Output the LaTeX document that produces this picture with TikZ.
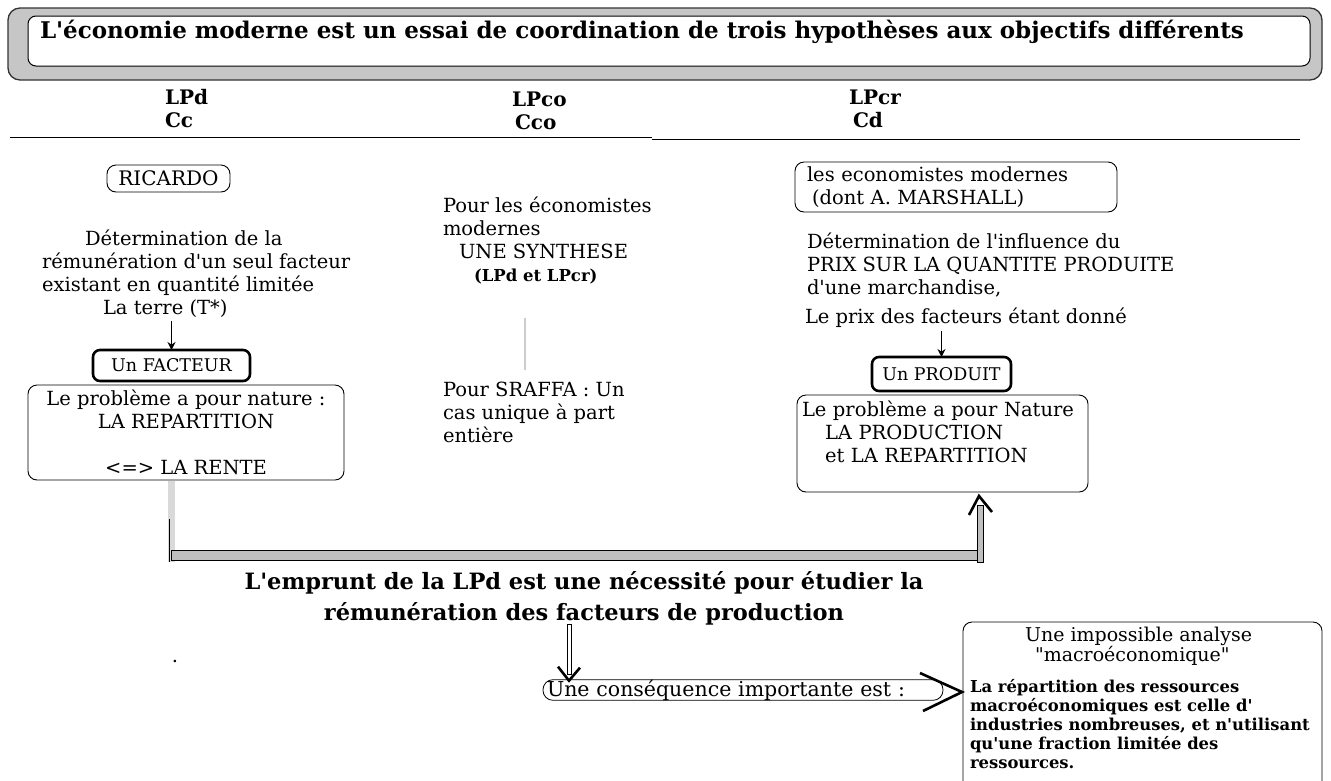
\documentclass[tikz,border=0pt]{standalone}
\usepackage{fontspec}
\newfontfamily\dvs{DejaVu Serif}
\usetikzlibrary{calc,arrows.meta}

\begin{document}
\begin{tikzpicture}[x=1pt,y=-1pt,
  every node/.style={inner sep=0pt, outer sep=0pt},
  titlefont/.style={font=\dvs\bfseries\fontsize{23}{26}\selectfont},
  hdr/.style={font=\dvs\bfseries\fontsize{20}{23}\selectfont, align=left},
  body/.style={font=\dvs\fontsize{19.5}{23}\selectfont, align=left},
  emprunt/.style={font=\dvs\bfseries\fontsize{22.5}{31}\selectfont, align=center},
  macrotitle/.style={font=\dvs\fontsize{19}{20}\selectfont, align=left},
  macrobody/.style={font=\dvs\bfseries\fontsize{16.4}{19}\selectfont, align=left},
  rbox/.style={draw, line width=0.9pt, rounded corners=9pt, anchor=north west},
  thickbox/.style={draw, line width=2.6pt, rounded corners=7pt, anchor=north west},
  smallarrow/.style={line width=1.6pt, -{Stealth[length=8pt,width=8pt]}},
  chevron/.style={line width=2.6pt},
  bandline/.style={fill=gray!50, line width=0.8pt}
]
\useasboundingbox (0,0) rectangle (1331,780);
\fill[white] (0,0) rectangle (1331,780);

% heading banner
\node[draw=black!80, line width=1.3pt, fill=gray!45, rounded corners=12pt,
      minimum width=1314pt, minimum height=72pt, anchor=north west] (outer) at (8,8) {};
\node[draw, line width=1pt, fill=white, rounded corners=8pt,
      minimum width=1282pt, minimum height=50pt, anchor=north west] (inner) at (28,16) {};
\node[titlefont, anchor=base west] (ttl) at ($(inner.north west)+(12,22)$)
  {L'économie moderne est un essai de coordination de trois hypothèses aux objectifs différents};

% column headers (anchored on the baseline of the second line)
\node[hdr, anchor=base west] (h1) at (165,127) {LPd\\Cc};
\node[hdr, anchor=base west] (h2) at (512,129) {LPco\\\hspace*{3pt}Cco};
\node[hdr, anchor=base west] (h3) at (849,127) {LPcr\\\hspace*{4pt}Cd};
\draw[line width=1pt] (10,137) -- (652,137);
\draw[line width=1pt] (652,139) -- (1300,139);

% left column
\node[rbox, minimum width=123pt, minimum height=27pt, font=\dvs\fontsize{20}{22}\selectfont] (ric) at (107,165) {RICARDO};
\node[body, anchor=base west] (lcol) at (42,314)
  {\hspace*{43pt}Détermination de la\\
   rémunération d'un seul facteur\\
   existant en quantité limitée\\
   \hspace*{61pt}La terre (T*)};
\node[thickbox, minimum width=157pt, minimum height=31pt, font=\dvs\fontsize{17.5}{22}\selectfont] (fact) at (93,350) {Un FACTEUR};
\node[rbox, minimum width=316pt, minimum height=95pt, body, align=center] (lbox) at (28,385)
  {Le problème a pour nature :\\
   LA REPARTITION\\
   \mbox{}\\
   <=> LA RENTE};
\draw[smallarrow] ($(lcol.south -| fact.north)+(0,4)$) -- (fact.north);

% middle column
\node[body, anchor=base west] (mid1) at (443,281)
  {Pour les économistes\\
   modernes\\
   \hspace*{16pt}UNE SYNTHESE\\
   \hspace*{31pt}{\fontsize{16.5}{18}\selectfont\bfseries (LPd et LPcr)}};
\node[body, anchor=base west] (mid2) at (443,442)
  {Pour SRAFFA : Un\\
   cas unique à part\\
   entière};
\coordinate (g1) at (525,318);
\coordinate (g2) at (525,370);
\draw[gray!40, line width=1.5pt] (g1) -- (g2);

% right column
\node[rbox, minimum width=322pt, minimum height=50pt, body, text width=298pt, inner xsep=12pt] (econ) at (795,162)
  {les economistes modernes\\
   \hspace*{5pt}(dont A. MARSHALL)};
\node[body, anchor=base west] (rcol) at (807,294)
  {Détermination de l'influence du\\
   PRIX SUR LA QUANTITE PRODUITE\\
   d'une marchandise,};
\node[body, anchor=base west] (prix) at (805,323) {Le prix des facteurs étant donné};
\node[thickbox, minimum width=139pt, minimum height=34pt, font=\dvs\fontsize{17.5}{22}\selectfont] (prod) at (872,357) {Un PRODUIT};
\node[rbox, minimum width=291pt, minimum height=97pt, body, text width=281pt, inner xsep=5pt] (rbox2) at (797,395)
  {Le problème a pour Nature\\
   \hspace*{23pt}LA PRODUCTION\\
   \hspace*{23pt}et LA REPARTITION\\
   \mbox{}};
\draw[smallarrow] ($(prix.south -| prod.north)+(0,4)$) -- (prod.north);

% broad grey link from the left box to the right box
\coordinate (bL) at ($(lbox.south west)+(144,0)$);
\coordinate (bR) at ($(rbox2.south west)+(183,0)$);
\fill[gray!30] ($(bL)+(-4,1)$) rectangle ($(bL)+(3,82)$);
\draw[line width=0.8pt] ($(bL)+(-3,39)$) -- ($(bL)+(-3,82)$);
\draw[bandline] ($(bL)+(-1,70)$) rectangle ($(bR |- bL)+(3,80)$);
\draw[bandline] ($(bR)+(-3,13)$) rectangle ($(bR)+(3,70)$);
\draw[chevron] ($(bR)+(-11,23)$) -- ($(bR)+(-1,4)$) -- ($(bR)+(12,20)$);

% conclusion
\node[emprunt, anchor=base] (emp) at (584,620)
  {L'emprunt de la LPd est une nécessité pour étudier la\\
   rémunération des facteurs de production};
\node[body, anchor=base] (dot) at (175,662) {.};

\node[draw, line width=0.8pt, rounded corners=10pt, minimum width=400pt, minimum height=20pt,
      anchor=west, text width=392pt, inner xsep=4pt, align=left,
      font=\dvs\fontsize{20.5}{22}\selectfont] (csq) at (543,690) {Une conséquence importante est :};
\coordinate (d1) at (569,624);
\draw[line width=0.7pt, fill=white] ($(d1)+(-2,0)$) rectangle ($(d1 |- csq.north)+(2,-5)$);
\draw[chevron] ($(d1 |- csq.north)+(-11,-13)$) -- ($(d1 |- csq.north)+(0,1)$) -- ($(d1 |- csq.north)+(11,-12)$);
\draw[chevron] ($(csq.east)+(-23,-17)$) -- ($(csq.east)+(19,2)$) -- ($(csq.east)+(-20,21)$);

\node[rbox, minimum width=359pt, minimum height=176pt] (macro) at (963,622) {};
\node[macrotitle, anchor=base west] (macrot) at ($(macro.north west)+(62,39)$)
  {Une impossible analyse\\
   \hspace*{10pt}"macroéconomique"};
\node[macrobody, anchor=base west] (macrob) at ($(macro.north west)+(7,146)$)
  {La répartition des ressources\\
   macroéconomiques est celle d'\\
   industries nombreuses, et n'utilisant\\
   qu'une fraction limitée des\\
   ressources.};
\end{tikzpicture}
\end{document}
